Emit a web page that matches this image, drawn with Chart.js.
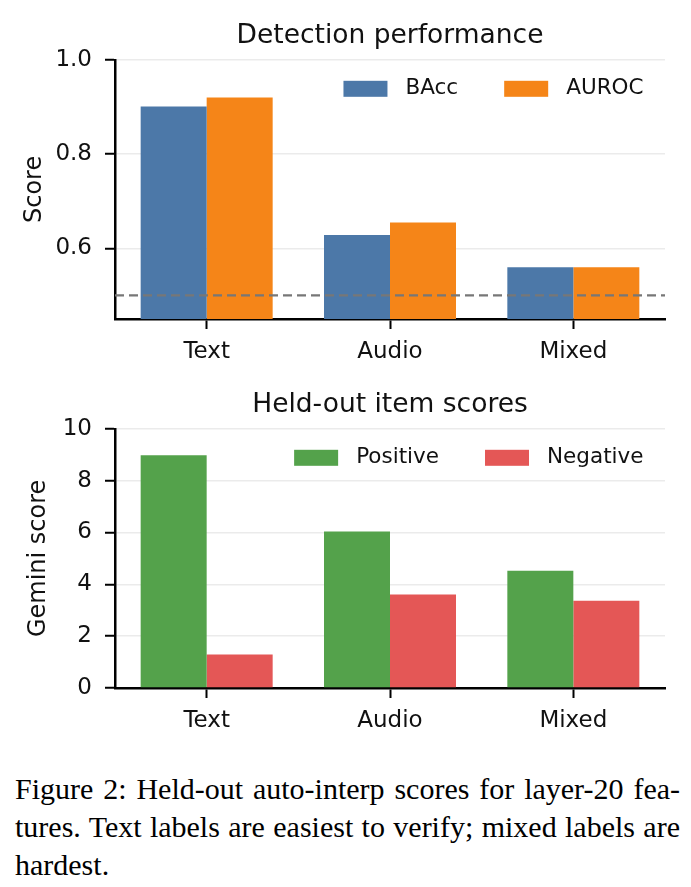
<!DOCTYPE html>
<html lang="en">
<head>
<meta charset="UTF-8">
<title>Detection performance and held-out item scores</title>
<script src="https://cdn.jsdelivr.net/npm/chart.js"></script>
<style>
  body { margin: 0; background: #fff; width: 691px; }
  .chartBox { position: relative; width: 691px; height: 369px; }
  #caption {
    font-family: "Liberation Serif", "Times New Roman", serif;
    font-size: 30px; line-height: 38px; color: #000;
    margin: 32px 0 0 15px; width: 665px;
  }
  #caption div { text-align: justify; text-align-last: justify; }
  #caption div.last { text-align-last: left; }
</style>
</head>
<body>
<div class="chartBox"><canvas id="detChart"></canvas></div>
<div class="chartBox"><canvas id="scoreChart"></canvas></div>
<div id="caption">
  <div>Figure 2: Held-out auto-interp scores for layer-20 fea-</div>
  <div>tures. Text labels are easiest to verify; mixed labels are</div>
  <div class="last">hardest.</div>
</div>

<script>
// data
const categories = ['Text', 'Audio', 'Mixed'];
const baccValues = [0.901, 0.628, 0.560];
const aurocValues = [0.920, 0.655, 0.560];
const positiveValues = [8.98, 6.04, 4.52];
const negativeValues = [1.29, 3.61, 3.37];
const scoreTicks = [0.6, 0.8, 1.0];
const geminiTicks = [0, 2, 4, 6, 8, 10];
const chanceLevel = 0.5;

const FONT = 'DejaVu Sans';
const TEXT_COLOR = '#111';
const tickFont = { family: FONT, size: 23 };
const labelFont = { family: FONT, size: 24 };

// legend drawn inside the plot, right aligned
const insideLegend = {
    id: 'insideLegend',
    afterDraw(chart, args, opts) {
        const ctx = chart.ctx;
        const area = chart.chartArea;
        ctx.save();
        ctx.font = '21.5px "' + FONT + '"';
        ctx.textBaseline = 'middle';
        let x = area.right - 21.5;
        const y = area.top + 29;
        chart.data.datasets.slice().reverse().forEach(ds => {
            x -= ctx.measureText(ds.label).width;
            ctx.fillStyle = TEXT_COLOR;
            ctx.fillText(ds.label, x, y);
            x -= 18 + 44;
            ctx.fillStyle = ds.backgroundColor;
            ctx.fillRect(x, y - 8, 44, 16);
            x -= 46;
        });
        ctx.restore();
    }
};

// dashed chance line across the whole axis
const refLine = {
    id: 'refLine',
    afterDatasetsDraw(chart, args, opts) {
        if (opts.value == null) return;
        const y = chart.scales.y.getPixelForValue(opts.value);
        const ctx = chart.ctx;
        ctx.save();
        ctx.strokeStyle = '#777';
        ctx.lineWidth = 2.3;
        ctx.setLineDash([9, 5]);
        ctx.beginPath();
        ctx.moveTo(chart.chartArea.left, y);
        ctx.lineTo(chart.chartArea.right, y);
        ctx.stroke();
        ctx.restore();
    }
};

function makeChart(id, title, yLabel, yPad, datasets, yMin, yMax, yTicks, fmt, extra) {
    return new Chart(document.getElementById(id), {
        type: 'bar',
        data: {
            labels: categories,
            datasets: datasets.map(d => ({
                label: d.label,
                data: d.data,
                backgroundColor: d.color,
                borderWidth: 0,
                barPercentage: 1.0,
                categoryPercentage: 0.72
            }))
        },
        options: {
            responsive: true,
            maintainAspectRatio: false,
            animation: false,
            layout: { padding: { left: 0, right: 26, top: 0, bottom: 0 } },
            plugins: {
                legend: { display: false },
                tooltip: { enabled: false },
                title: {
                    display: true,
                    text: title,
                    fullSize: false,
                    color: TEXT_COLOR,
                    font: { family: FONT, size: 26.5, weight: 'normal' },
                    padding: { top: 20, bottom: 8 }
                },
                refLine: extra || {}
            },
            scales: {
                x: {
                    offset: true,
                    afterFit: axis => { axis.height = 50; },
                    grid: { display: true, drawOnChartArea: false, offset: false,
                            tickColor: '#000', tickLength: 10, tickWidth: 2 },
                    border: { display: true, color: '#000', width: 2.5 },
                    ticks: { font: tickFont, color: TEXT_COLOR, padding: 9 }
                },
                y: {
                    min: yMin,
                    max: yMax,
                    z: 1,
                    afterBuildTicks: axis => { axis.ticks = yTicks.map(v => ({ value: v })); },
                    afterFit: axis => { axis.width = 115; },
                    ticks: { font: tickFont, color: TEXT_COLOR, padding: 13, callback: fmt },
                    grid: { color: 'rgba(190,190,190,0.3)', lineWidth: 1.5,
                            tickColor: '#000', tickLength: 10, tickWidth: 2 },
                    border: { display: true, color: '#000', width: 2.5 },
                    title: { display: true, text: yLabel, color: TEXT_COLOR,
                             font: labelFont, padding: { top: yPad, bottom: 0 } }
                }
            }
        },
        plugins: extra ? [insideLegend, refLine] : [insideLegend]
    });
}

makeChart('detChart', 'Detection performance', 'Score', 20, [
    { label: 'BAcc', data: baccValues, color: '#4c78a8' },
    { label: 'AUROC', data: aurocValues, color: '#f58518' }
], 0.45, 1.0, scoreTicks, v => v.toFixed(1), { value: chanceLevel });

makeChart('scoreChart', 'Held-out item scores', 'Gemini score', 24, [
    { label: 'Positive', data: positiveValues, color: '#54a24b' },
    { label: 'Negative', data: negativeValues, color: '#e45756' }
], 0, 10, geminiTicks, v => String(v), null);
</script>
</body>
</html>
